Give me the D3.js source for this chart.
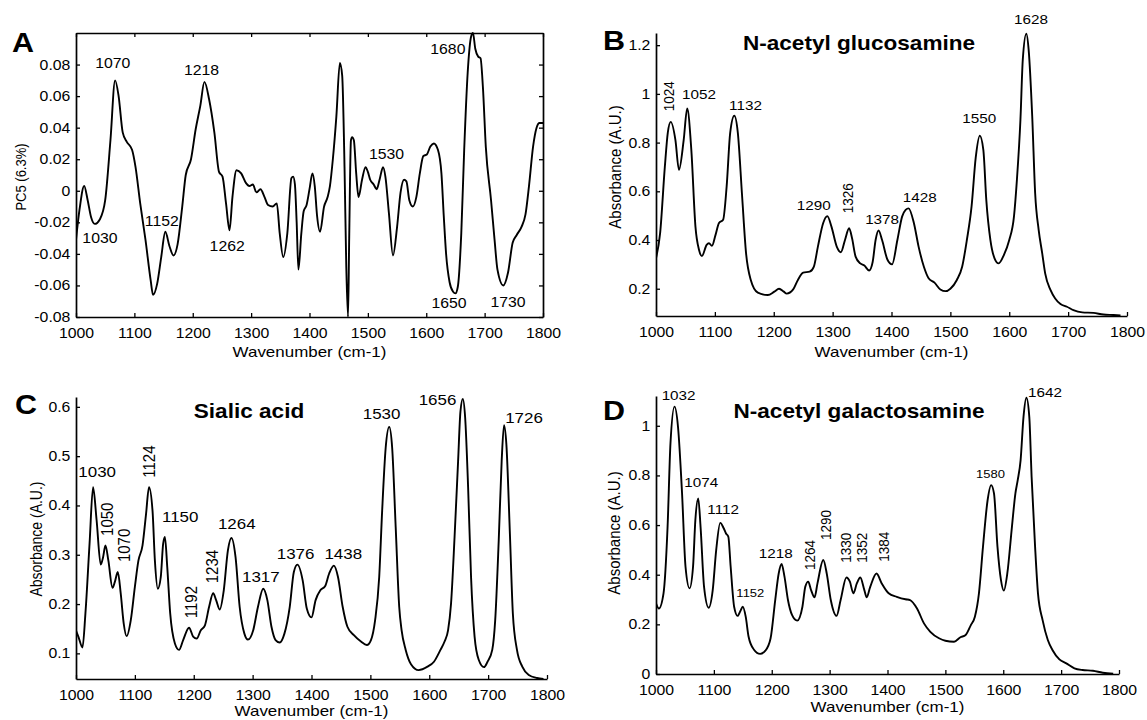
<!DOCTYPE html>
<html>
<head>
<meta charset="utf-8">
<script src="https://cdn.jsdelivr.net/npm/d3@7"></script>
<style>
  body { margin: 0; background: #fff; }
  svg { display: block; }
  text { font-family: "Liberation Sans", Arial, Helvetica, sans-serif; fill: #000; }
</style>
</head>
<body>
<svg id="chart" width="1147" height="720"></svg>
<script>
// ---- data ----
const WAVE_TICKS = [1000, 1100, 1200, 1300, 1400, 1500, 1600, 1700, 1800];
const PC5_TICKS = [-0.08, -0.06, -0.04, -0.02, 0, 0.02, 0.04, 0.06, 0.08];
const GLCNAC_TICKS = [0.2, 0.4, 0.6, 0.8, 1, 1.2];
const SIALIC_TICKS = [0.1, 0.2, 0.3, 0.4, 0.5, 0.6];
const GALNAC_TICKS = [0, 0.2, 0.4, 0.6, 0.8, 1];

// PC5 loading (panel A): [wavenumber, loading]
const PC5 = [
  [1000,-0.031],[1006,-0.012],[1014,0.003],[1020,-0.006],[1026,-0.017],[1032,-0.021],[1041,-0.018],
  [1050,-0.006],[1059,0.032],[1067,0.070],[1073,0.060],[1080,0.037],[1087,0.031],[1096,0.026],
  [1102,0.015],[1110,-0.008],[1119,-0.031],[1128,-0.057],[1132,-0.066],[1139,-0.059],[1146,-0.042],
  [1153,-0.026],[1160,-0.035],[1167,-0.041],[1174,-0.034],[1182,-0.010],[1188,0.010],[1197,0.020],
  [1205,0.039],[1213,0.054],[1220,0.069],[1228,0.058],[1237,0.037],[1245,0.012],[1251,0.009],
  [1257,-0.008],[1263,-0.025],[1268,-0.004],[1275,0.013],[1283,0.011],[1291,0.005],[1297,0.003],
  [1303,0.004],[1309,-0.001],[1316,0.001],[1323,-0.004],[1329,-0.009],[1337,-0.010],[1344,-0.008],
  [1349,-0.027],[1355,-0.042],[1362,-0.027],[1369,0.008],[1372,0.009],[1375,0.004],[1378,-0.020],
  [1381,-0.050],[1386,-0.027],[1390,-0.013],[1395,-0.009],[1400,0.001],[1405,0.011],[1409,0.003],
  [1413,-0.016],[1418,-0.026],[1425,-0.010],[1431,-0.004],[1435,0.003],[1440,0.020],[1446,0.047],
  [1452,0.081],[1456,0.073],[1460,0.015],[1463,-0.048],[1466,-0.080],[1468,-0.030],[1471,0.032],
  [1473,0.034],[1476,0.032],[1480,0.011],[1484,-0.004],[1490,0.007],[1496,0.015],[1500,0.012],
  [1504,0.007],[1510,0.004],[1515,0.001],[1520,0.007],[1526,0.015],[1530,0.009],[1536,-0.014],
  [1543,-0.041],[1550,-0.023],[1556,-0.001],[1562,0.007],[1566,0.006],[1571,-0.006],[1577,-0.010],
  [1583,-0.004],[1589,0.011],[1595,0.022],[1601,0.023],[1607,0.028],[1613,0.030],[1620,0.026],
  [1626,0.011],[1630,-0.016],[1634,-0.040],[1640,-0.058],[1646,-0.064],[1650,-0.065],[1654,-0.061],
  [1660,-0.027],[1665,0.026],[1671,0.075],[1677,0.098],[1680,0.100],[1684,0.090],[1689,0.085],
  [1693,0.084],[1697,0.066],[1702,0.028],[1711,-0.006],[1717,-0.031],[1722,-0.050],[1732,-0.060],
  [1740,-0.052],[1748,-0.033],[1755,-0.028],[1763,-0.023],[1770,-0.015],[1776,0.003],[1783,0.028],
  [1789,0.040],[1794,0.043],[1800,0.043]
];

// N-acetyl glucosamine absorbance (panel B)
const GLCNAC = [
  [1000,0.325],[1007,0.428],[1015,0.70],[1020,0.84],[1025,0.885],[1033,0.81],[1039,0.688],
  [1047,0.81],[1053,0.94],[1060,0.77],[1067,0.455],[1073,0.36],[1078,0.334],[1086,0.38],
  [1090,0.387],[1095,0.376],[1101,0.42],[1107,0.47],[1114,0.483],[1120,0.62],[1126,0.84],
  [1133,0.91],[1139,0.84],[1146,0.59],[1153,0.345],[1161,0.236],[1173,0.184],[1190,0.174],
  [1201,0.188],[1209,0.2],[1217,0.188],[1222,0.18],[1233,0.197],[1241,0.236],[1250,0.266],
  [1261,0.27],[1268,0.29],[1275,0.373],[1284,0.47],[1291,0.498],[1298,0.455],[1307,0.373],
  [1314,0.35],[1321,0.40],[1328,0.448],[1333,0.407],[1339,0.332],[1347,0.304],[1354,0.295],
  [1362,0.275],[1368,0.31],[1373,0.40],[1378,0.439],[1384,0.40],[1393,0.32],[1401,0.30],
  [1410,0.40],[1418,0.496],[1424,0.524],[1429,0.53],[1438,0.47],[1446,0.373],[1455,0.29],
  [1463,0.243],[1473,0.225],[1483,0.197],[1492,0.19],[1500,0.20],[1511,0.236],[1520,0.29],
  [1528,0.40],[1536,0.538],[1543,0.737],[1550,0.828],[1556,0.77],[1561,0.565],[1568,0.40],
  [1575,0.325],[1582,0.304],[1591,0.339],[1600,0.40],[1608,0.496],[1613,0.647],[1619,0.894],
  [1623,1.141],[1629,1.247],[1633,1.18],[1639,0.908],[1644,0.592],[1650,0.441],[1656,0.345],
  [1661,0.263],[1670,0.195],[1678,0.16],[1687,0.137],[1698,0.126],[1709,0.112],[1724,0.103],
  [1743,0.101],[1760,0.094],[1777,0.092],[1789,0.09]
];

// Sialic acid absorbance (panel C)
const SIALIC = [
  [1000,0.146],[1004,0.134],[1011,0.112],[1016,0.181],[1023,0.322],[1029,0.437],[1035,0.37],
  [1042,0.28],[1046,0.295],[1050,0.319],[1055,0.288],[1062,0.233],[1066,0.245],[1071,0.265],
  [1076,0.221],[1081,0.161],[1086,0.135],[1093,0.167],[1100,0.235],[1106,0.288],[1113,0.319],
  [1119,0.383],[1124,0.437],[1130,0.389],[1134,0.288],[1139,0.231],[1144,0.255],[1148,0.322],
  [1151,0.336],[1155,0.275],[1160,0.181],[1168,0.12],[1175,0.107],[1182,0.127],[1192,0.152],
  [1199,0.134],[1205,0.13],[1212,0.147],[1219,0.157],[1226,0.194],[1233,0.222],[1238,0.208],
  [1244,0.189],[1251,0.228],[1258,0.309],[1264,0.334],[1271,0.295],[1278,0.194],[1286,0.14],
  [1292,0.128],[1301,0.147],[1309,0.194],[1318,0.231],[1325,0.208],[1332,0.154],[1339,0.127],
  [1346,0.122],[1354,0.14],[1363,0.194],[1370,0.265],[1376,0.28],[1385,0.248],[1392,0.191],
  [1400,0.173],[1407,0.208],[1415,0.228],[1423,0.236],[1430,0.262],[1438,0.278],[1445,0.255],
  [1453,0.194],[1461,0.154],[1472,0.137],[1484,0.124],[1494,0.117],[1501,0.127],[1508,0.167],
  [1515,0.255],[1520,0.389],[1526,0.517],[1532,0.559],[1537,0.517],[1543,0.356],[1549,0.194],
  [1553,0.147],[1560,0.107],[1569,0.078],[1582,0.066],[1597,0.073],[1608,0.083],[1619,0.107],
  [1626,0.124],[1632,0.147],[1637,0.201],[1643,0.336],[1649,0.49],[1653,0.591],[1657,0.616],
  [1661,0.578],[1666,0.437],[1671,0.255],[1677,0.134],[1684,0.087],[1693,0.072],[1699,0.083],
  [1707,0.107],[1712,0.167],[1718,0.329],[1723,0.49],[1727,0.563],[1731,0.524],[1737,0.342],
  [1742,0.181],[1749,0.107],[1758,0.073],[1769,0.056],[1783,0.05],[1794,0.048]
];

// N-acetyl galactosamine absorbance (panel D)
const GALNAC = [
  [1000,0.285],[1005,0.264],[1013,0.325],[1020,0.593],[1025,0.929],[1032,1.077],[1038,0.996],
  [1045,0.728],[1051,0.432],[1058,0.345],[1064,0.432],[1068,0.62],[1073,0.707],[1077,0.593],
  [1083,0.352],[1091,0.267],[1098,0.338],[1104,0.499],[1111,0.609],[1117,0.587],[1121,0.566],
  [1125,0.553],[1129,0.432],[1135,0.271],[1141,0.234],[1146,0.255],[1150,0.271],[1155,0.231],
  [1160,0.15],[1169,0.099],[1180,0.081],[1189,0.094],[1198,0.144],[1206,0.298],[1212,0.405],
  [1217,0.443],[1222,0.392],[1228,0.298],[1235,0.238],[1244,0.215],[1253,0.271],[1258,0.352],
  [1263,0.372],[1268,0.338],[1274,0.309],[1279,0.365],[1289,0.459],[1295,0.405],[1302,0.298],
  [1312,0.234],[1319,0.298],[1329,0.389],[1335,0.372],[1341,0.325],[1347,0.365],[1353,0.389],
  [1360,0.338],[1364,0.309],[1370,0.35],[1381,0.405],[1390,0.365],[1402,0.325],[1416,0.311],
  [1431,0.301],[1439,0.298],[1451,0.264],[1463,0.204],[1474,0.17],[1489,0.144],[1500,0.134],
  [1515,0.13],[1526,0.148],[1535,0.157],[1544,0.197],[1551,0.231],[1558,0.325],[1565,0.513],
  [1573,0.701],[1579,0.761],[1584,0.728],[1590,0.513],[1596,0.379],[1601,0.336],[1607,0.405],
  [1615,0.593],[1621,0.728],[1625,0.781],[1630,0.862],[1635,1.036],[1640,1.113],[1645,1.036],
  [1649,0.795],[1655,0.513],[1660,0.325],[1668,0.217],[1677,0.137],[1685,0.097],[1697,0.059],
  [1709,0.043],[1723,0.023],[1737,0.016],[1755,0.013],[1772,0.005],[1790,0.001]
];

// peak labels: [text, wavenumber, value, rotated]
const PC5_PEAKS = [
  ["1070",1063,0.0778,false],["1218",1215,0.0734,false],["1030",1041,-0.0331,false],
  ["1152",1147,-0.0221,false],["1262",1259,-0.038,false],["1530",1532,0.0202,false],
  ["1680",1637,0.0865,false],["1650",1639,-0.0743,false],["1730",1740,-0.0735,false]
];
const GLCNAC_PEAKS = [
  ["1024",1022,0.99,true],["1052",1073,0.981,false],["1132",1152,0.935,false],
  ["1290",1268,0.524,false],["1326",1325,0.571,true],["1378",1384,0.466,false],
  ["1428",1448,0.557,false],["1550",1549,0.882,false],["1628",1637,1.285,false]
];
const SIALIC_PEAKS = [
  ["1030",1036,0.457,false],["1050",1053,0.372,true],["1070",1081,0.319,true],
  ["1124",1124,0.489,true],["1150",1177,0.367,false],["1192",1195,0.204,true],
  ["1234",1232,0.276,true],["1264",1273,0.353,false],["1317",1314,0.245,false],
  ["1376",1373,0.292,false],["1438",1454,0.292,false],["1530",1519,0.575,false],
  ["1656",1614,0.603,false],["1726",1761,0.568,false]
];
const GALNAC_PEAKS = [
  ["1032",1039,1.103,false],["1074",1078,0.753,false],["1112",1116,0.644,false],
  ["1152",1163,0.31,false],["1218",1207,0.467,false],["1264",1265,0.479,true],
  ["1290",1293,0.6,true],["1330",1327,0.509,true],["1352",1356,0.509,true],
  ["1384",1393,0.513,true],["1580",1578,0.789,false],["1642",1672,1.116,false]
];

// ---- layout ----
const SX = 1.13;   // the figure's type is a little wider than plain Arial
const svg = d3.select("#chart");

const panels = [
  { letter: "A", data: PC5, peaks: PC5_PEAKS, yTicks: PC5_TICKS, yDomain: [-0.08, 0.1],
    left: 76, right: 543, top: 33, bottom: 317, box: true,
    fmt: d => d === 0 ? "0" : d.toFixed(2),
    yTitle: "PC5 (6.3%)", yTitleSize: 13, yTitleX: 20.5, yTitleY: 177, xTitleY: 357,
    title: null, letterX: 12, letterY: 52, peakSize: 14 },
  { letter: "B", data: GLCNAC, peaks: GLCNAC_PEAKS, yTicks: GLCNAC_TICKS, yDomain: [0.088, 1.25],
    left: 656, right: 1127, top: 33, bottom: 316, box: false,
    fmt: d => String(+d.toFixed(1)),
    yTitle: "Absorbance (A.U.)", yTitleSize: 15, yTitleX: 615, yTitleY: 167, xTitleY: 357,
    title: "N-acetyl glucosamine", titleX: 859, titleY: 50, letterX: 603, letterY: 50, peakSize: 13.5 },
  { letter: "C", data: SIALIC, peaks: SIALIC_PEAKS, yTicks: SIALIC_TICKS, yDomain: [0.048, 0.62],
    left: 76, right: 547, top: 397, bottom: 679, box: false,
    fmt: d => String(+d.toFixed(1)),
    yTitle: "Absorbance (A.U.)", yTitleSize: 14, yTitleX: 36, yTitleY: 539, xTitleY: 716,
    title: "Sialic acid", titleX: 249, titleY: 418, letterX: 15, letterY: 414, peakSize: 15 },
  { letter: "D", data: GALNAC, peaks: GALNAC_PEAKS, yTicks: GALNAC_TICKS, yDomain: [0, 1.12],
    left: 656, right: 1119, top: 396, bottom: 674, box: false,
    fmt: d => String(+d.toFixed(1)),
    yTitle: "Absorbance (A.U.)", yTitleSize: 15, yTitleX: 614, yTitleY: 533, xTitleY: 712,
    title: "N-acetyl galactosamine", titleX: 859, titleY: 418, letterX: 603, letterY: 420, peakSize: 13.5,
    smallPeaks: ["1152", "1580"] }
];

function styleAxis(g) {
  g.select(".domain").attr("stroke", "#000").attr("stroke-width", 1.7);
  g.selectAll(".tick line").attr("stroke", "#000").attr("stroke-width", 1.3);
  g.selectAll(".tick text")
    .attr("transform", `scale(${SX},1)`)
    .style("font-size", "14px")
    .attr("fill", "#000");
}

function drawPanel(p, i) {
  const x = d3.scaleLinear().domain([1000, 1800]).range([p.left, p.right]);
  const y = d3.scaleLinear().domain(p.yDomain).range([p.bottom, p.top]);
  const g = svg.append("g");

  g.append("clipPath").attr("id", "clip" + i)
    .append("rect")
    .attr("x", p.left).attr("y", p.top - 1)
    .attr("width", p.right - p.left).attr("height", p.bottom - p.top + 2);

  // spectrum
  const line = d3.line()
    .x(d => x(d[0]))
    .y(d => y(d[1]))
    .curve(d3.curveMonotoneX);

  g.append("path")
    .datum(p.data)
    .attr("clip-path", `url(#clip${i})`)
    .attr("fill", "none")
    .attr("stroke", "#000")
    .attr("stroke-width", 1.9)
    .attr("stroke-linejoin", "round")
    .attr("d", line);

  // axes, ticks pointing inward
  g.append("g")
    .attr("transform", `translate(0,${p.bottom})`)
    .call(d3.axisBottom(x).tickValues(WAVE_TICKS).tickFormat(d3.format("d"))
      .tickSizeInner(-4).tickSizeOuter(0).tickPadding(11))
    .call(styleAxis);

  g.append("g")
    .attr("transform", `translate(${p.left},0)`)
    .call(d3.axisLeft(y).tickValues(p.yTicks).tickFormat(p.fmt)
      .tickSizeInner(-4).tickSizeOuter(0).tickPadding(5))
    .call(styleAxis);

  if (p.box) {
    g.append("g")
      .attr("transform", `translate(0,${p.top})`)
      .call(d3.axisTop(x).tickValues(WAVE_TICKS).tickFormat(() => "")
        .tickSizeInner(-4).tickSizeOuter(0))
      .call(styleAxis);
    g.append("g")
      .attr("transform", `translate(${p.right},0)`)
      .call(d3.axisRight(y).tickValues(p.yTicks).tickFormat(() => "")
        .tickSizeInner(-4).tickSizeOuter(0))
      .call(styleAxis);
  }

  // axis titles
  g.append("text")
    .attr("transform", `translate(${(p.left + p.right) / 2},${p.xTitleY}) scale(${SX},1)`)
    .attr("text-anchor", "middle")
    .style("font-size", "15px")
    .text("Wavenumber (cm-1)");

  g.append("text")
    .attr("transform", `translate(${p.yTitleX},${p.yTitleY}) scale(${SX},1) rotate(-90)`)
    .attr("text-anchor", "middle")
    .attr("dominant-baseline", "central")
    .style("font-size", p.yTitleSize + "px")
    .text(p.yTitle);

  // peak labels
  const small = p.smallPeaks || [];
  g.selectAll(".peak")
    .data(p.peaks)
    .enter().append("text")
    .attr("class", "peak")
    .attr("transform", d => `translate(${x(d[1])},${y(d[2])}) scale(${SX},1)` + (d[3] ? " rotate(-90)" : ""))
    .attr("text-anchor", "middle")
    .attr("dominant-baseline", d => d[3] ? "central" : "auto")
    .style("font-size", d => (small.includes(d[0]) ? 11.5 : p.peakSize) + "px")
    .text(d => d[0]);

  // title and panel letter
  if (p.title) {
    g.append("text")
      .attr("transform", `translate(${p.titleX},${p.titleY}) scale(${SX},1)`)
      .attr("text-anchor", "middle")
      .style("font-size", "20px")
      .style("font-weight", "bold")
      .text(p.title);
  }

  g.append("text")
    .attr("transform", `translate(${p.letterX},${p.letterY}) scale(${SX},1)`)
    .style("font-size", "27px")
    .style("font-weight", "bold")
    .text(p.letter);
}

panels.forEach(drawPanel);
</script>
</body>
</html>
